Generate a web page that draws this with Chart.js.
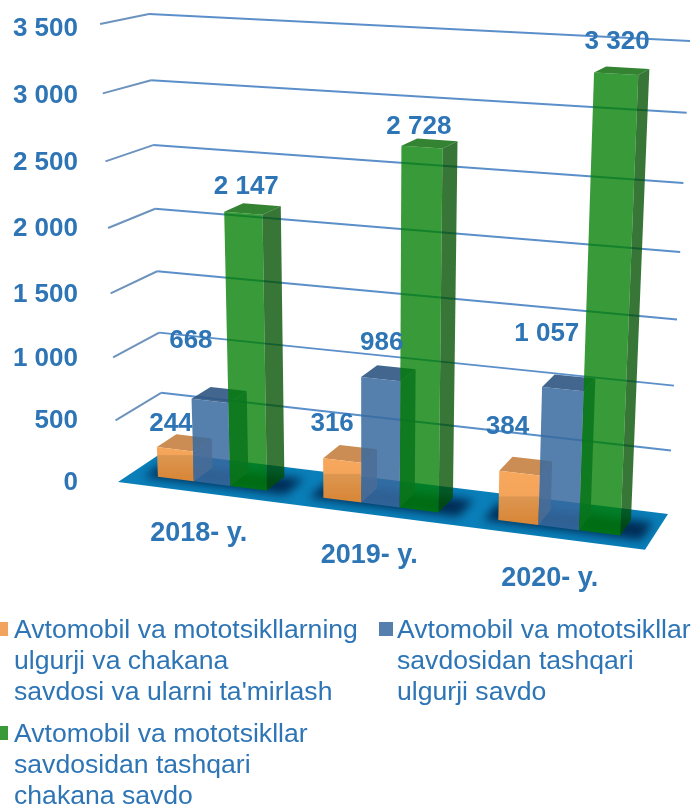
<!DOCTYPE html>
<html>
<head>
<meta charset="utf-8">
<style>
html, body { margin: 0; padding: 0; background: #fff; }
#wrap { position: relative; width: 694px; height: 805px; }
</style>
</head>
<body>
<div id="wrap"><canvas id="chart" width="694" height="805"></canvas></div>
<script src="https://cdn.jsdelivr.net/npm/chart.js@4"></script>
<script>
const categories = ['2018- y.', '2019- y.', '2020- y.'];
const seriesRetail = [244, 316, 384];
const seriesWholesale = [668, 986, 1057];
const seriesOther = [2147, 2728, 3320];
const nameRetail = ['Avtomobil va mototsikllarning', 'ulgurji va chakana', "savdosi va ularni ta'mirlash"];
const nameWholesale = ['Avtomobil va mototsikllar', 'savdosidan tashqari', 'ulgurji savdo'];
const nameOther = ['Avtomobil va mototsikllar', 'savdosidan tashqari', 'chakana savdo'];

const textColor = '#2e75b6';
const fmt = v => String(v).replace(/\B(?=(\d{3})+$)/g, ' ');

// corners of the back wall and the front of the floor, as seen in the picture
const wallBL = [163, 452], wallBR = [668, 514], wallTR = [690, 41], wallTL = [149, 14];
const floorFL = [118, 482], floorFR = [645, 551];

// camera: u along the categories, v up the values, w from back wall (0) to floor front (1)
function makeCamera() {
    const [x0, y0] = wallBL, [x1, y1] = wallBR, [x2, y2] = wallTR, [x3, y3] = wallTL;
    const dx1 = x1 - x2, dx2 = x3 - x2, sx = x0 - x1 + x2 - x3;
    const dy1 = y1 - y2, dy2 = y3 - y2, sy = y0 - y1 + y2 - y3;
    const den = dx1 * dy2 - dx2 * dy1;
    const g = (sx * dy2 - dx2 * sy) / den, h = (dx1 * sy - sx * dy1) / den;
    const c1 = [x1 - x0 + g * x1, y1 - y0 + g * y1, g];
    const c2 = [x3 - x0 + h * x3, y3 - y0 + h * y3, h];
    const c4 = [x0, y0, 1];
    const C = (c1[0] - floorFR[0] * c1[2]) / (floorFR[0] - floorFL[0]);
    const c3 = [floorFL[0] * C - c4[0], floorFL[1] * C - c4[1], C - c4[2]];
    return (u, v, w) => {
        const p = [0, 1, 2].map(i => u * c1[i] + v * c2[i] + w * c3[i] + c4[i]);
        return [p[0] / p[2], p[1] / p[2]];
    };
}
const project = makeCamera();

function poly(ctx, pts, fill) {
    ctx.beginPath();
    pts.forEach((p, i) => i ? ctx.lineTo(p[0], p[1]) : ctx.moveTo(p[0], p[1]));
    ctx.closePath();
    if (fill) {
        ctx.fillStyle = fill;
        ctx.fill();
    }
}

const barFront = 0.72, barBack = 0.28;
// colours: front, side, top
const faces = [
    ['#e08f45', 'rgba(185,125,95,.8)', 'rgba(200,135,75,.95)'],
    ['rgba(55,106,160,.85)', 'rgba(45,85,130,.85)', 'rgba(45,85,130,.9)'],
    ['rgba(0,125,0,.78)', 'rgba(0,80,0,.78)', 'rgba(0,100,0,.8)']
];
// label offsets from the top of each bar, per series and category
const labelShift = [
    [[-4, -25], [-10, -37], [-12, -46]],
    [[-19, -60], [1, -36], [-16, -55]],
    [[3, -26], [-3, -20], [1, -32]]
];

const perspective3d = {
    id: 'perspective3d',
    beforeDatasetsDraw(chart) {
        const ctx = chart.ctx;
        const area = chart.chartArea;
        const xs = chart.scales.x, ys = chart.scales.y;
        const toU = px => (px - area.left) / area.width;
        const toV = py => (area.bottom - py) / area.height;

        // floor
        const floor = [project(0, 0, 1), project(1, 0, 1), project(1, 0, 0), project(0, 0, 0)];
        poly(ctx, floor, '#0a7fb9');

        // bar shadows on the floor
        ctx.save();
        poly(ctx, floor);
        ctx.clip();
        ctx.filter = 'blur(5px)';
        categories.forEach((c, i) => {
            const a = chart.getDatasetMeta(0).data[i], b = chart.getDatasetMeta(2).data[i];
            const l = toU(a.x - a.width / 2) - 0.025, r = toU(b.x + b.width / 2) + 0.04;
            poly(ctx, [project(l, 0, barFront + 0.05), project(r, 0, barFront + 0.05), project(r, 0, barBack), project(l, 0, barBack)], 'rgba(0,40,80,.95)');
        });
        ctx.restore();

        // grid lines
        ctx.lineJoin = 'round';
        ctx.lineWidth = 2;
        ys.ticks.forEach(t => {
            const v = toV(ys.getPixelForValue(t.value));
            const front = project(0, v, 1), corner = project(0, v, 0), end = project(1, v, 0);
            if (t.value > 0) {
                ctx.strokeStyle = '#6d93bd';
                ctx.beginPath();
                ctx.moveTo(front[0], front[1]);
                ctx.lineTo(corner[0], corner[1]);
                ctx.stroke();
                ctx.strokeStyle = '#5b8fc9';
                ctx.beginPath();
                ctx.moveTo(corner[0], corner[1]);
                ctx.lineTo(end[0], end[1]);
                ctx.stroke();
            }
        });

        // bars, left to right
        categories.forEach((c, i) => {
            chart.data.datasets.forEach((ds, d) => {
                const el = chart.getDatasetMeta(d).data[i];
                const l = toU(el.x - el.width / 2), r = toU(el.x + el.width / 2);
                const t = toV(el.y), b = toV(el.base);
                const f = barFront, k = barBack;
                poly(ctx, [project(r, b, f), project(r, b, k), project(r, t, k), project(r, t, f)], faces[d][1]);
                poly(ctx, [project(l, t, f), project(r, t, f), project(r, t, k), project(l, t, k)], faces[d][2]);
                const front = [project(l, b, f), project(r, b, f), project(r, t, f), project(l, t, f)];
                let fill = faces[d][0];
                if (d === 0) {
                    const band = 0.25 + 0.125 * i;
                    fill = ctx.createLinearGradient(0, front[3][1], 0, front[0][1]);
                    fill.addColorStop(0, '#f7a85c');
                    fill.addColorStop(band, '#f5a55a');
                    fill.addColorStop(band + 0.04, '#dc9650');
                    fill.addColorStop(1, '#d9883a');
                }
                poly(ctx, front, fill);
            });
        });

        // text on top
        ctx.fillStyle = textColor;
        ctx.textBaseline = 'middle';
        ctx.font = 'bold 26px "Liberation Sans"';
        ctx.textAlign = 'right';
        ys.ticks.forEach(t => {
            const v = toV(ys.getPixelForValue(t.value));
            const p = project(0, v, 1);
            ctx.fillText(t.label, 78, p[1] + 1 + 4 * Math.pow(v, 6));
        });
        ctx.textAlign = 'center';
        chart.data.datasets.forEach((ds, d) => {
            ds.data.forEach((val, i) => {
                const el = chart.getDatasetMeta(d).data[i];
                const top = project(toU(el.x), toV(el.y), barFront);
                ctx.fillText(fmt(val), top[0] + labelShift[d][i][0], top[1] + labelShift[d][i][1]);
            });
        });
        ctx.font = 'bold 27px "Liberation Sans"';
        categories.forEach((c, i) => {
            const p = project(toU(xs.getPixelForValue(i)), 0, 1);
            ctx.fillText(c, p[0] - 1, p[1] + 41);
        });

        // legend
        ctx.textAlign = 'left';
        ctx.textBaseline = 'alphabetic';
        ctx.font = '26.6px "Liberation Sans"';
        const legendPlaces = [[0, 14, 638], [379, 397, 638], [0, 14, 742]];
        chart.data.datasets.forEach((ds, d) => {
            const [sx, tx, ty] = legendPlaces[d];
            ctx.fillStyle = ds.backgroundColor;
            ctx.fillRect(sx, ty - 16, d === 1 ? 14 : 8, 14);
            ctx.fillStyle = textColor;
            ds.names.forEach((line, n) => ctx.fillText(line, tx, ty + n * 31));
        });
        return false;
    }
};

new Chart(document.getElementById('chart'), {
    type: 'bar',
    data: {
        labels: categories,
        datasets: [
            { label: nameRetail.join(' '), names: nameRetail, data: seriesRetail, backgroundColor: '#f2a35e' },
            { label: nameWholesale.join(' '), names: nameWholesale, data: seriesWholesale, backgroundColor: '#5580ae' },
            { label: nameOther.join(' '), names: nameOther, data: seriesOther, backgroundColor: '#3a9a38' }
        ]
    },
    options: {
        responsive: false,
        animation: false,
        layout: { padding: 0 },
        categoryPercentage: 0.665,
        barPercentage: 1,
        plugins: { legend: { display: false }, tooltip: { enabled: false } },
        scales: {
            x: { display: false },
            y: { display: false, min: 0, max: 3500, ticks: { stepSize: 500, callback: fmt } }
        }
    },
    plugins: [perspective3d]
});
</script>
</body>
</html>
